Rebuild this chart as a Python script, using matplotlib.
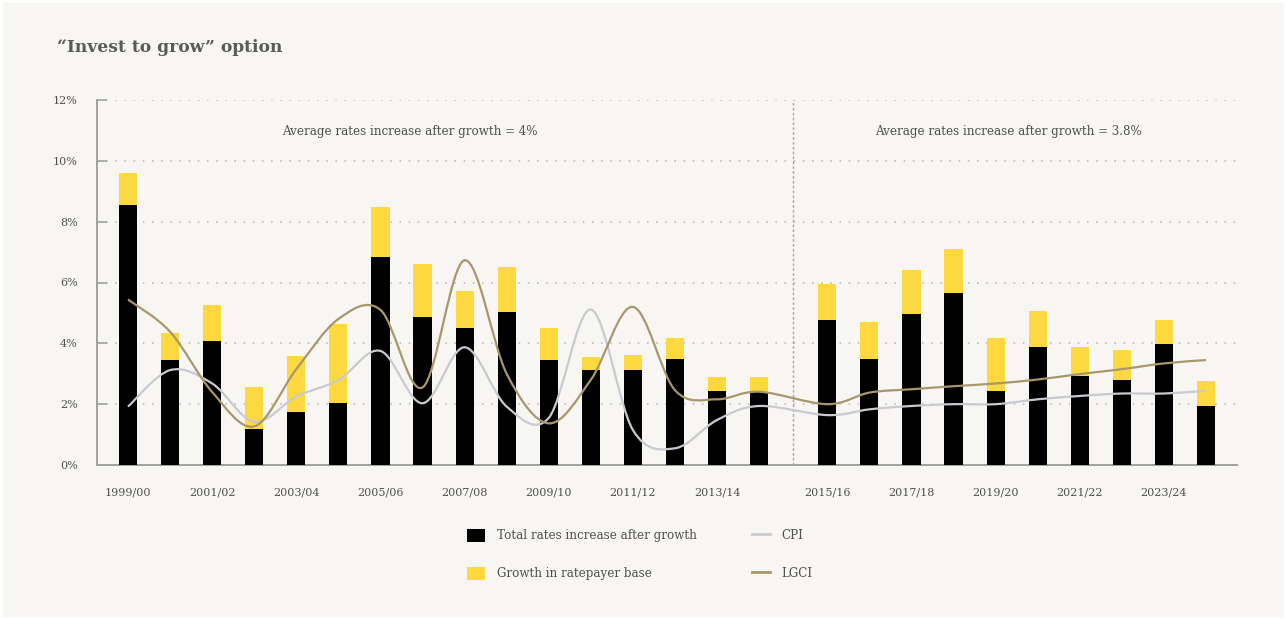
import numpy as np
import matplotlib.pyplot as plt
from matplotlib.patches import Rectangle, Patch, PathPatch
from matplotlib.lines import Line2D
from matplotlib.path import Path

plt.rcParams['font.family'] = ['DejaVu Serif']

years = ['1999/00', '2000/01', '2001/02', '2002/03', '2003/04', '2004/05',
         '2005/06', '2006/07', '2007/08', '2008/09', '2009/10', '2010/11',
         '2011/12', '2012/13', '2013/14', '2014/15', '2015/16', '2016/17',
         '2017/18', '2018/19', '2019/20', '2020/21', '2021/22', '2022/23',
         '2023/24', '2024/25']

# % increase, per year
total_after_growth = [8.54, 3.45, 4.07, 1.17, 1.74, 2.05, 6.84, 4.85, 4.51, 5.02,
                      3.45, 3.12, 3.12, 3.47, 2.42, 2.39, 4.77, 3.50, 4.96, 5.64,
                      2.42, 3.89, 2.92, 2.79, 3.97, 1.93]
ratepayer_growth = [1.07, 0.88, 1.20, 1.38, 1.83, 2.58, 1.64, 1.77, 1.20, 1.49,
                    1.07, 0.42, 0.49, 0.69, 0.48, 0.51, 1.19, 1.19, 1.46, 1.46,
                    1.76, 1.18, 0.97, 0.99, 0.79, 0.82]
cpi = [1.92, 3.12, 2.68, 1.42, 2.25, 2.79, 3.75, 2.03, 3.87, 1.92,
       1.55, 5.11, 1.15, 0.55, 1.48, 1.94, 1.64, 1.83, 1.94, 2.00,
       2.00, 2.16, 2.27, 2.35, 2.35, 2.44]
lgci = [5.44, 4.38, 2.40, 1.27, 3.15, 4.80, 5.10, 2.55, 6.73, 3.00,
        1.37, 2.80, 5.20, 2.46, 2.16, 2.41, 2.00, 2.38, 2.49, 2.59,
        2.68, 2.81, 2.99, 3.15, 3.34, 3.45]

split = 16          # first year of the forecast period (2015/16)
split_gap = 0.62
period_notes = ['Average rates increase after growth = 4%',
                'Average rates increase after growth = 3.8%']

BG = '#f7f6f2'
BLACK = '#000000'
YELLOW = '#fdd93f'
CPI_COL = '#c9c9d0'
LGCI_COL = '#a8976b'
GRID = '#b5b5b5'
TEXT = '#505050'


def smooth_path(xs, ys):
    # Catmull-Rom style bezier through every point (like a "smoothed line")
    pts = np.column_stack([xs, ys])
    padded = np.vstack([pts[0], pts, pts[-1]])
    verts = [pts[0]]
    codes = [Path.MOVETO]
    for i in range(len(pts) - 1):
        p0, p1, p2, p3 = padded[i], padded[i + 1], padded[i + 2], padded[i + 3]
        verts += [p1 + (p2 - p0) / 6, p2 - (p3 - p1) / 6, p2]
        codes += [Path.CURVE4] * 3
    return Path(verts, codes)


x = np.arange(len(years)) + np.where(np.arange(len(years)) >= split, split_gap, 0)

fig = plt.figure(figsize=(12.87, 6.2), dpi=100, facecolor='white')
fig.patches.append(Rectangle((3 / 1287, 3 / 620), 1 - 6 / 1287, 1 - 6 / 620,
                             transform=fig.transFigure, facecolor=BG,
                             edgecolor='none', zorder=-10))

ax = fig.add_axes([97 / 1287, 155 / 620, 1140 / 1287, 365 / 620])
ax.set_facecolor(BG)

width = 0.43
ax.bar(x, total_after_growth, width, color=BLACK, zorder=3)
ax.bar(x, ratepayer_growth, width, bottom=total_after_growth, color=YELLOW, zorder=3)

ax.add_patch(PathPatch(smooth_path(x, cpi), facecolor='none', edgecolor=CPI_COL,
                       lw=1.6, zorder=4))
ax.add_patch(PathPatch(smooth_path(x, lgci), facecolor='none', edgecolor=LGCI_COL,
                       lw=1.6, zorder=5))

ax.set_xlim(-0.737, x[-1] + 0.737)
ax.set_ylim(0, 12)

ax.set_yticks(range(0, 13, 2))
ax.set_yticklabels([f'{v}%' for v in range(0, 13, 2)])
for v in range(2, 13, 2):
    ax.axhline(v, color=GRID, lw=1.1, ls=(0, (1, 5)), zorder=1)

divider = (x[split - 1] + x[split]) / 2
ax.axvline(divider, color='#a8a8a8', lw=1.0, ls=(0, (2, 1.5)), zorder=2)

ax.text(6.7, 10.97, period_notes[0], ha='center', va='center', fontsize=8.6, color=TEXT)
ax.text(20.92, 10.97, period_notes[1], ha='center', va='center', fontsize=8.6, color=TEXT)

ax.set_xticks(x[::2])
ax.set_xticklabels(years[::2])
ax.tick_params(axis='x', length=0, pad=16, labelsize=8, labelcolor=TEXT)
ax.tick_params(axis='y', direction='in', length=7, width=1.2, color='#a0a0a0',
               pad=14, labelsize=8, labelcolor=TEXT)

for side in ['top', 'right']:
    ax.spines[side].set_visible(False)
for side in ['left', 'bottom']:
    ax.spines[side].set_color('#a0a0a0')
    ax.spines[side].set_linewidth(1.4)

fig.text(57 / 1287, 1 - 47 / 620, '\u201cInvest to grow\u201d option', fontsize=12.3,
         fontweight='bold', color='#5a5a5a', va='center', ha='left')

handles = [Patch(facecolor=BLACK), Patch(facecolor=YELLOW),
           Line2D([], [], color=CPI_COL, lw=2), Line2D([], [], color=LGCI_COL, lw=2)]
labels = ['Total rates increase after growth', 'Growth in ratepayer base', 'CPI', 'LGCI']
fig.legend(handles, labels, ncol=2, loc='upper left',
           bbox_to_anchor=(461 / 1287, 1 - 523 / 620), frameon=False,
           fontsize=8.6, labelcolor=TEXT, handlelength=1.5, handleheight=1.3,
           handletextpad=1.0, labelspacing=2.05, columnspacing=4.6, borderpad=0)

fig.savefig('out.png', dpi=100, facecolor='white')
